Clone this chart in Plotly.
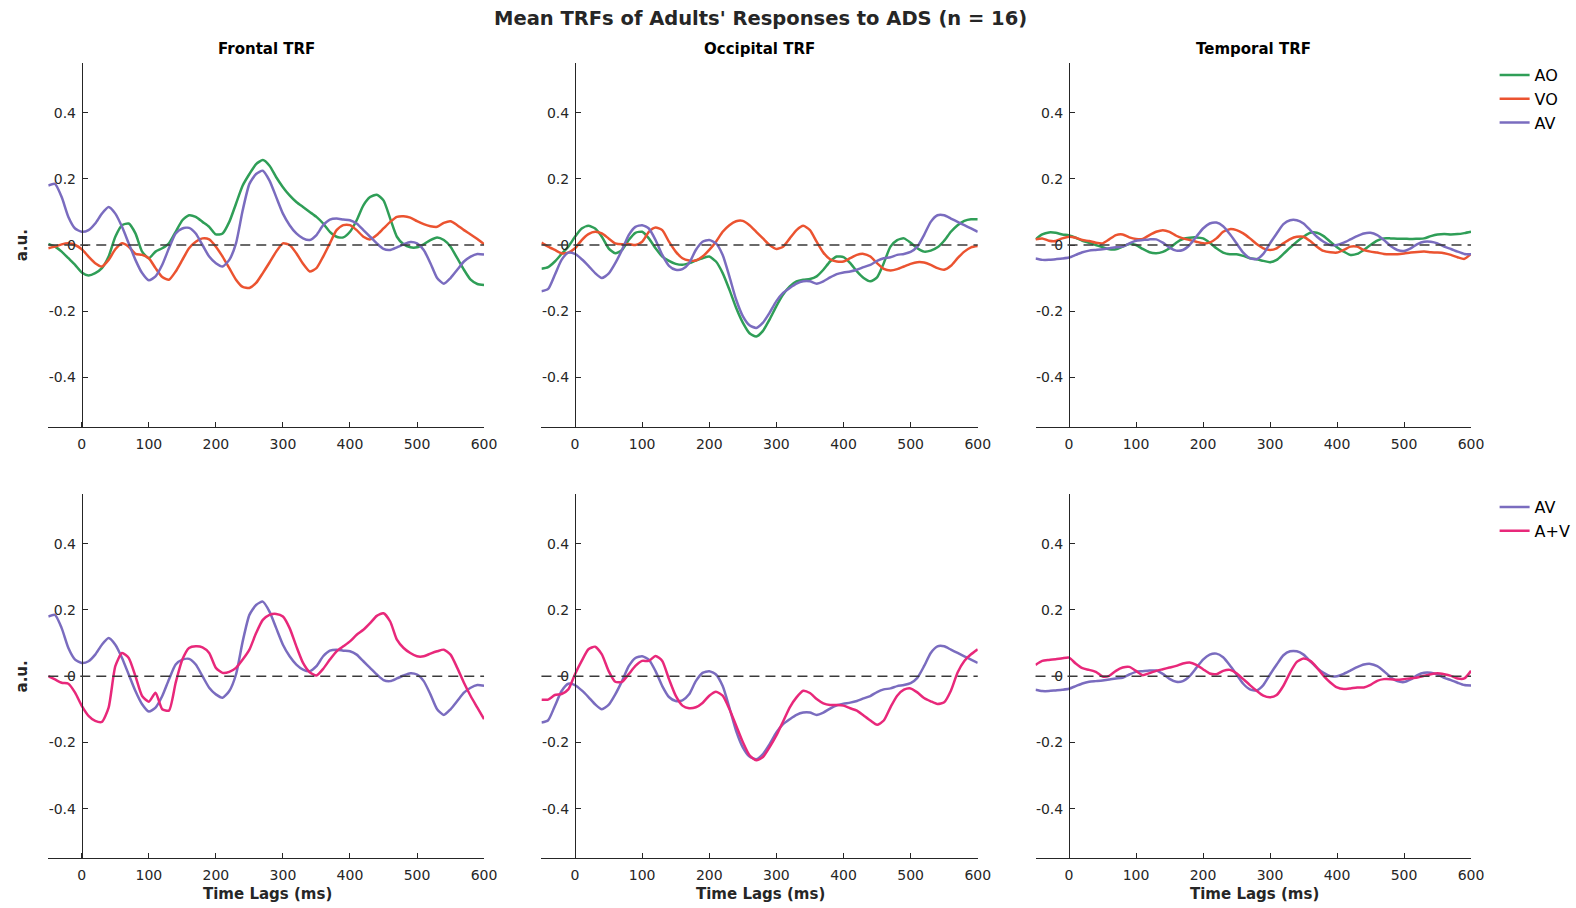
import plotly.graph_objects as go

# Time lags (ms), sampled every 10 ms
lags = list(range(-50, 601, 10))

# ---- Frontal channel ----
frontal_ao = [0.003, -0.005, -0.02, -0.04, -0.06,
              -0.083, -0.092, -0.085, -0.07, -0.035, 0.025, 0.06, 0.065, 0.035, -0.02,
              -0.04, -0.02, -0.01, 0.005, 0.04, 0.075, 0.09, 0.085, 0.07, 0.055,
              0.032, 0.035, 0.07, 0.125, 0.18, 0.215, 0.245, 0.257, 0.24, 0.205,
              0.175, 0.15, 0.13, 0.115, 0.1, 0.085, 0.065, 0.04, 0.025, 0.023,
              0.04, 0.075, 0.12, 0.145, 0.152, 0.135, 0.08, 0.025, 0.002, -0.007,
              -0.007, 0.002, 0.015, 0.023, 0.015, -0.005, -0.04, -0.075, -0.105, -0.118,
              -0.121]
frontal_vo = [-0.01, -0.005, 0.002, 0.005, 0.0,
              -0.013, -0.035, -0.055, -0.065, -0.045, -0.013, 0.005, -0.005, -0.027, -0.03,
              -0.04, -0.07, -0.097, -0.105, -0.08, -0.045, -0.01, 0.01, 0.02, 0.017,
              -0.005, -0.035, -0.07, -0.105, -0.127, -0.13, -0.115, -0.085, -0.053, -0.02,
              0.005, 0.0, -0.025, -0.057, -0.08, -0.07, -0.035, 0.005, 0.045, 0.06,
              0.06, 0.045, 0.025, 0.017, 0.03, 0.05, 0.07, 0.085, 0.087, 0.083,
              0.072, 0.063, 0.057, 0.055, 0.067, 0.072, 0.06, 0.045, 0.032, 0.018,
              0.002]
frontal_av = [0.18, 0.185, 0.145, 0.085, 0.05,
              0.04, 0.045, 0.065, 0.095, 0.115, 0.095, 0.055, 0.005, -0.045, -0.085,
              -0.107, -0.095, -0.06, -0.01, 0.035, 0.05, 0.052, 0.035, 0.0, -0.035,
              -0.055, -0.065, -0.045, 0.005, 0.105, 0.185, 0.215, 0.225, 0.195, 0.145,
              0.095, 0.06, 0.035, 0.02, 0.015, 0.03, 0.06, 0.077, 0.08, 0.077,
              0.075, 0.065, 0.045, 0.025, 0.005, -0.012, -0.015, -0.007, 0.002, 0.009,
              0.005, -0.015, -0.055, -0.1, -0.117, -0.1, -0.075, -0.05, -0.035, -0.027,
              -0.029]
frontal_apv = [0.0, -0.01, -0.02, -0.023, -0.05,
               -0.09, -0.12, -0.135, -0.138, -0.095, 0.03, 0.07, 0.055, 0.0, -0.06,
               -0.077, -0.05, -0.1, -0.104, -0.02, 0.05, 0.085, 0.09, 0.087, 0.07,
               0.025, 0.01, 0.013, 0.025, 0.05, 0.08, 0.13, 0.17, 0.185, 0.188,
               0.18, 0.145, 0.09, 0.04, 0.012, 0.002, 0.022, 0.05, 0.075, 0.09,
               0.105, 0.125, 0.14, 0.16, 0.182, 0.19, 0.165, 0.11, 0.085, 0.07,
               0.06, 0.06, 0.068, 0.075, 0.08, 0.065, 0.025, -0.02, -0.06, -0.095,
               -0.13]

# ---- Occipital channel ----
occipital_ao = [-0.072, -0.067, -0.05, -0.027, -0.005,
                0.025, 0.05, 0.058, 0.05, 0.025, -0.01, -0.025, -0.015, 0.015, 0.037,
                0.04, 0.02, -0.01, -0.035, -0.048, -0.057, -0.06, -0.055, -0.047, -0.04,
                -0.035, -0.05, -0.085, -0.135, -0.19, -0.235, -0.267, -0.277, -0.26, -0.225,
                -0.185, -0.15, -0.125, -0.11, -0.105, -0.103, -0.095, -0.075, -0.05, -0.035,
                -0.037, -0.055, -0.08, -0.1, -0.11, -0.098, -0.055, -0.005, 0.015, 0.02,
                0.007, -0.01, -0.02, -0.017, -0.007, 0.013, 0.04, 0.06, 0.073, 0.078,
                0.078]
occipital_vo = [0.007, -0.005, -0.015, -0.025, -0.023,
                -0.01, 0.015, 0.033, 0.04, 0.035, 0.02, 0.005, 0.002, 0.003, 0.0,
                0.01, 0.04, 0.053, 0.045, 0.01, -0.02, -0.04, -0.047, -0.047, -0.035,
                -0.015, 0.01, 0.04, 0.06, 0.072, 0.073, 0.06, 0.04, 0.02, 0.0,
                -0.012, -0.005, 0.02, 0.045, 0.058, 0.045, 0.01, -0.023, -0.043, -0.05,
                -0.05, -0.04, -0.03, -0.027, -0.035, -0.055, -0.072, -0.077, -0.073, -0.065,
                -0.057, -0.052, -0.053, -0.06, -0.07, -0.075, -0.063, -0.04, -0.02, -0.007,
                -0.003]
occipital_av = [-0.14, -0.133, -0.09, -0.045, -0.023,
                -0.027, -0.043, -0.063, -0.085, -0.1, -0.087, -0.055, -0.015, 0.03, 0.055,
                0.06, 0.05, 0.015, -0.03, -0.063, -0.075, -0.073, -0.055, -0.015, 0.01,
                0.015, 0.005, -0.03, -0.095, -0.165, -0.215, -0.243, -0.251, -0.235, -0.205,
                -0.17, -0.145, -0.13, -0.117, -0.11, -0.11, -0.117, -0.11, -0.098, -0.088,
                -0.083, -0.08, -0.075, -0.067, -0.06, -0.048, -0.04, -0.037, -0.03, -0.027,
                -0.021, -0.005, 0.03, 0.07, 0.09, 0.09, 0.08, 0.07, 0.06, 0.05,
                0.04]
occipital_apv = [-0.071, -0.071, -0.057, -0.054, -0.04,
                 0.006, 0.046, 0.081, 0.089, 0.066, 0.016, -0.017, -0.017, 0.006, 0.031,
                 0.046, 0.046, 0.061, 0.046, -0.009, -0.059, -0.089, -0.097, -0.094, -0.081,
                 -0.059, -0.047, -0.059, -0.099, -0.149, -0.199, -0.239, -0.254, -0.244, -0.214,
                 -0.179, -0.137, -0.094, -0.064, -0.044, -0.051, -0.069, -0.082, -0.087, -0.087,
                 -0.089, -0.097, -0.104, -0.119, -0.134, -0.147, -0.134, -0.094, -0.059, -0.041,
                 -0.037, -0.049, -0.066, -0.076, -0.084, -0.079, -0.044, 0.011, 0.046, 0.066,
                 0.081]

# ---- Temporal channel ----
temporal_ao = [0.017, 0.032, 0.038, 0.037, 0.032,
               0.029, 0.022, 0.013, 0.007, 0.0, -0.007, -0.013, -0.013, -0.005, 0.003,
               0.0, -0.012, -0.022, -0.025, -0.021, -0.01, 0.007, 0.018, 0.022, 0.023,
               0.02, 0.007, -0.01, -0.023, -0.028, -0.028, -0.033, -0.04, -0.043, -0.048,
               -0.052, -0.045, -0.027, -0.008, 0.01, 0.025, 0.037, 0.037, 0.027, 0.01,
               -0.007, -0.02, -0.03, -0.027, -0.015, 0.0, 0.013, 0.02, 0.02, 0.019,
               0.019, 0.018, 0.019, 0.02, 0.027, 0.032, 0.033, 0.032, 0.033, 0.036,
               0.04]
temporal_vo = [0.017, 0.02, 0.013, 0.012, 0.02,
               0.025, 0.022, 0.015, 0.012, 0.007, 0.005, 0.017, 0.03, 0.032, 0.023,
               0.018, 0.018, 0.03, 0.04, 0.045, 0.04, 0.028, 0.02, 0.015, 0.01,
               0.005, 0.007, 0.02, 0.04, 0.048, 0.045, 0.035, 0.02, 0.003, -0.01,
               -0.015, -0.01, 0.005, 0.018, 0.025, 0.025, 0.012, -0.005, -0.018, -0.022,
               -0.023, -0.015, -0.005, -0.005, -0.015, -0.02, -0.023, -0.027, -0.028, -0.028,
               -0.026, -0.023, -0.021, -0.02, -0.022, -0.023, -0.025, -0.03, -0.037, -0.042,
               -0.027]
temporal_av = [-0.041, -0.045, -0.045, -0.043, -0.041,
               -0.038, -0.03, -0.022, -0.017, -0.015, -0.013, -0.01, -0.007, -0.005, 0.005,
               0.013, 0.015, 0.017, 0.017, 0.007, -0.008, -0.017, -0.015, 0.0, 0.025,
               0.05, 0.065, 0.068, 0.057, 0.033, 0.005, -0.023, -0.04, -0.043, -0.027,
               0.005, 0.035, 0.063, 0.075, 0.075, 0.065, 0.045, 0.025, 0.01, 0.0,
               0.0, 0.007, 0.017, 0.027, 0.035, 0.037, 0.03, 0.015, -0.003, -0.015,
               -0.018, -0.01, 0.003, 0.01, 0.01, 0.005, -0.005, -0.012, -0.02, -0.027,
               -0.028]
temporal_apv = [0.034, 0.046, 0.049, 0.051, 0.054,
                0.056, 0.038, 0.024, 0.019, 0.013, -0.001, 0.001, 0.016, 0.026, 0.028,
                0.016, 0.003, 0.009, 0.016, 0.021, 0.026, 0.031, 0.038, 0.041, 0.034,
                0.021, 0.008, 0.006, 0.016, 0.019, 0.009, -0.009, -0.027, -0.044, -0.059,
                -0.064, -0.057, -0.029, 0.011, 0.043, 0.053, 0.046, 0.026, 0.001, -0.019,
                -0.034, -0.039, -0.037, -0.034, -0.034, -0.026, -0.014, -0.009, -0.009, -0.011,
                -0.009, -0.006, -0.004, 0.001, 0.006, 0.009, 0.006, 0.001, -0.007, -0.007,
                0.016]

channel_titles = ["Frontal TRF", "Occipital TRF", "Temporal TRF"]
x_ticks = [0, 100, 200, 300, 400, 500, 600]
y_ticks = [-0.4, -0.2, 0, 0.2, 0.4]
y_tick_text = ["-0.4", "-0.2", "0", "0.2", "0.4"]

COLORS = {"AO": "#2f9e57", "VO": "#eb5330", "AV": "#7a6cbf", "A+V": "#e8287a"}
FONT = "DejaVu Sans"
INK = "#262626"

W, H = 1576, 908

top_row = [
    {"AO": frontal_ao, "VO": frontal_vo, "AV": frontal_av},
    {"AO": occipital_ao, "VO": occipital_vo, "AV": occipital_av},
    {"AO": temporal_ao, "VO": temporal_vo, "AV": temporal_av},
]
bottom_row = [
    {"AV": frontal_av, "A+V": frontal_apv},
    {"AV": occipital_av, "A+V": occipital_apv},
    {"AV": temporal_av, "A+V": temporal_apv},
]

# panel placement in pixels: (left, right) per column, (top, bottom) per row
col_px = [(48.7, 488.4), (546.3, 986.5), (1044.8, 1484.2)]
row_px = [(63.3, 426.7), (494.0, 858.3)]
title_x_px = [268.5, 766.4, 1264.5]

fig = go.Figure()
layout = {}

panel = 0
for r, rows in enumerate([top_row, bottom_row]):
    for c in range(3):
        panel += 1
        sfx = "" if panel == 1 else str(panel)
        xd = [col_px[c][0] / W, col_px[c][1] / W]
        yd = [1 - row_px[r][1] / H, 1 - row_px[r][0] / H]
        x_lo, x_hi = -50, 600
        # the y axis sits on the zero-lag line
        ypos = xd[0] + (0 - x_lo) / (x_hi - x_lo) * (xd[1] - xd[0])

        layout["xaxis" + sfx] = dict(
            domain=xd, range=[x_lo, x_hi], anchor="y" + sfx,
            tickmode="array", tickvals=x_ticks,
            ticks="inside", ticklen=5, tickcolor=INK, tickwidth=1,
            showline=True, linecolor=INK, linewidth=1,
            showgrid=False, zeroline=False,
            tickfont=dict(family=FONT, size=14, color=INK),
            ticklabelstandoff=4,
        )
        layout["yaxis" + sfx] = dict(
            domain=yd, range=[-0.55, 0.55], anchor="free", position=ypos,
            tickmode="array", tickvals=y_ticks, ticktext=y_tick_text,
            ticks="inside", ticklen=5, tickcolor=INK, tickwidth=1,
            showline=True, linecolor=INK, linewidth=1,
            showgrid=False, zeroline=False,
            tickfont=dict(family=FONT, size=14, color=INK),
            ticklabelstandoff=3,
        )

        series = rows[c]
        legend_name = "legend" if r == 0 else "legend2"
        for name, vals in series.items():
            fig.add_trace(go.Scatter(
                x=lags, y=vals, mode="lines", name=name,
                line=dict(color=COLORS[name], width=2.5, shape="spline", smoothing=0.6),
                xaxis="x" + sfx, yaxis="y" + sfx,
                showlegend=(c == 2), legend=legend_name,
                hoverinfo="skip",
            ))

        # dashed zero reference
        fig.add_shape(type="line", xref="x" + sfx + " domain", yref="y" + sfx,
                      x0=0, x1=1, y0=0, y1=0,
                      line=dict(color="#3a3a3a", width=1.5, dash="10px,6px"),
                      layer="above")

        # y-axis label on the left column
        if c == 0:
            fig.add_annotation(
                text="<b>a.u.</b>", textangle=-90, showarrow=False,
                xref="paper", yref="paper", x=22.5 / W, y=(yd[0] + yd[1]) / 2,
                xanchor="center", yanchor="middle",
                font=dict(family=FONT, size=15, color=INK))
        # channel titles on the top row, x labels on the bottom row
        if r == 0:
            fig.add_annotation(
                text="<b>%s</b>" % channel_titles[c], showarrow=False,
                xref="paper", yref="paper", x=title_x_px[c] / W, y=1 - 49 / H,
                xanchor="center", yanchor="middle",
                font=dict(family=FONT, size=15, color="#000000"))
        else:
            fig.add_annotation(
                text="<b>Time Lags (ms)</b>", showarrow=False,
                xref="paper", yref="paper", x=(title_x_px[c] + 1) / W, y=1 - 894 / H,
                xanchor="center", yanchor="middle",
                font=dict(family=FONT, size=15, color=INK))

fig.add_annotation(
    text="<b>Mean TRFs of Adults' Responses to ADS (n = 16)</b>", showarrow=False,
    xref="paper", yref="paper", x=767.5 / W, y=1 - 18 / H,
    xanchor="center", yanchor="middle",
    font=dict(family=FONT, size=19.5, color=INK))

legend_style = dict(
    xref="paper", yref="paper", xanchor="left", yanchor="top",
    bgcolor="rgba(0,0,0,0)", borderwidth=0,
    font=dict(family=FONT, size=16, color="#000000"),
    itemclick=False, itemdoubleclick=False,
)

fig.update_layout(
    width=W, height=H,
    margin=dict(l=0, r=0, t=0, b=0),
    paper_bgcolor="white", plot_bgcolor="white",
    legend=dict(x=1508 / W, y=1 - 58 / H, **legend_style),
    legend2=dict(x=1508 / W, y=1 - 490 / H, **legend_style),
    **layout,
)

fig.write_html("out.html")
